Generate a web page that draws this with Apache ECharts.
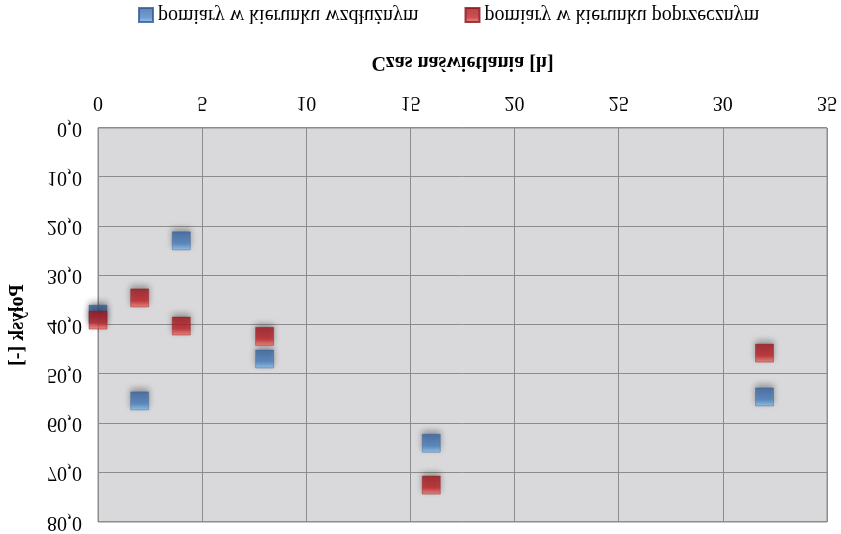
<!DOCTYPE html>
<html>
<head>
<meta charset="utf-8">
<script src="https://cdn.jsdelivr.net/npm/echarts@6/dist/echarts.min.js"></script>
<style>
  body { margin: 0; background: #fff; }
  /* the reference is a vertically mirrored picture of the chart */
  #container { width: 841px; height: 534px; transform: scaleY(-1); }
</style>
</head>
<body>
<div id="container"></div>
<script>
var myChart = echarts.init(document.getElementById('container'));

var czas = [0, 2, 4, 8, 16, 32];
var wzdluz = [37.8, 55.4, 22.9, 46.9, 64.0, 54.6];
var poprzecz = [39.0, 34.5, 40.2, 42.3, 72.5, 45.7];
var nazwySerii = ['pomiary w kierunku wzdłużnym', 'pomiary w kierunku poprzecznym'];

var pary = function(xs, ys) {
  var data = [];
  for (var i = 0; i < xs.length; i++) {
    data.push([xs[i], ys[i]]);
  }
  return data;
};

var gradient = function(light, mid, dark) {
  return new echarts.graphic.LinearGradient(0, 0, 0, 1, [
    {offset: 0, color: light},
    {offset: 0.35, color: mid},
    {offset: 1, color: dark}
  ]);
};

var font = 'Liberation Serif';

var option = {
  backgroundColor: '#fff',
  textStyle: { fontFamily: font, color: '#000' },
  grid: {
    left: 95,
    right: 14,
    top: 12,
    bottom: 128,
    show: true,
    backgroundColor: '#d9d9db',
    borderColor: '#8c8c8c',
    borderWidth: 1
  },
  legend: {
    left: 133,
    top: 504,
    itemWidth: 14,
    itemHeight: 14,
    itemGap: 46,
    textStyle: { fontFamily: font, fontSize: 20, color: '#000' },
    data: nazwySerii
  },
  xAxis: {
    type: 'value',
    min: 0,
    max: 35,
    interval: 5,
    name: 'Czas naświetlania [h]',
    nameLocation: 'middle',
    nameGap: 56,
    nameTextStyle: { fontFamily: font, fontSize: 20, fontWeight: 'bold', color: '#000' },
    axisLine: { show: false },
    axisTick: { show: false },
    axisLabel: { fontFamily: font, fontSize: 20, color: '#000', margin: 16 },
    splitLine: { lineStyle: { color: '#8c8c8c', width: 1 } }
  },
  yAxis: {
    type: 'value',
    min: 0,
    max: 80,
    interval: 10,
    name: 'Połysk [-]',
    nameLocation: 'middle',
    nameGap: 70,
    nameTextStyle: { fontFamily: font, fontSize: 20, fontWeight: 'bold', color: '#000' },
    axisLine: { show: false },
    axisTick: { show: false },
    axisLabel: {
      fontFamily: font,
      fontSize: 20,
      color: '#000',
      margin: 16,
      formatter: function(v) { return v.toFixed(1).replace('.', ','); }
    },
    splitLine: { lineStyle: { color: '#8c8c8c', width: 1 } }
  },
  series: [
    {
      name: nazwySerii[0],
      type: 'scatter',
      symbol: 'rect',
      symbolSize: 18,
      data: pary(czas, wzdluz),
      itemStyle: {
        color: gradient('#84bff0', '#4d84c4', '#3a64a0'),
        borderColor: '#2f5a92',
        borderWidth: 0.5,
        shadowColor: 'rgba(0,0,0,0.4)',
        shadowBlur: 6,
        shadowOffsetY: 3
      }
    },
    {
      name: nazwySerii[1],
      type: 'scatter',
      symbol: 'rect',
      symbolSize: 18,
      data: pary(czas, poprzecz),
      itemStyle: {
        color: gradient('#f0786e', '#c42228', '#9c161c'),
        borderColor: '#8a1418',
        borderWidth: 0.5,
        shadowColor: 'rgba(0,0,0,0.4)',
        shadowBlur: 6,
        shadowOffsetY: 3
      }
    }
  ]
};

myChart.setOption(option);
</script>
</body>
</html>
